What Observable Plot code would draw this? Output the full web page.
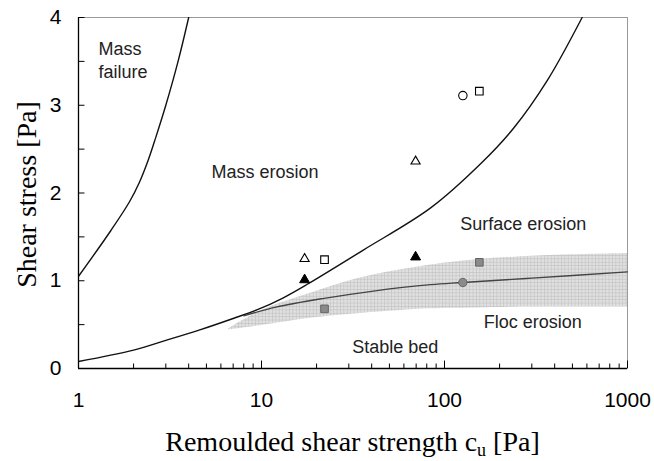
<!DOCTYPE html>
<html><head><meta charset="utf-8">
<script src="https://cdn.jsdelivr.net/npm/d3@7"></script>
<script src="https://cdn.jsdelivr.net/npm/@observablehq/plot@0.6"></script>
<style>html,body{margin:0;padding:0;background:#fff;}</style>
</head><body>
<svg width="0" height="0" style="position:absolute">
<defs>
<pattern id="grid" width="3.4" height="3.4" patternUnits="userSpaceOnUse">
<rect width="3.4" height="3.4" fill="#e0e0e0"/>
<path d="M0,0.3H3.4M0.3,0V3.4" stroke="#bcbcbc" stroke-width="0.6"/>
</pattern>
</defs></svg>
<div id="chart"></div>
<script>
// Mass failure boundary
const massFailureX = [1, 1.5, 1.9, 2.15, 2.4, 2.65, 3.0, 3.5, 4.0];
const massFailureY = [1.05, 1.57, 1.9, 2.12, 2.37, 2.64, 3.0, 3.5, 4.0];
// Mass erosion / surface erosion boundary
const surfaceX = [1, 2, 3, 4.6, 7, 9.5, 13, 17.8, 36, 84, 157, 239, 364, 565];
const surfaceY = [0.08, 0.21, 0.32, 0.44, 0.57, 0.67, 0.8, 0.96, 1.35, 1.83, 2.33, 2.74, 3.28, 4.0];
// Floc erosion mean line
const flocX = [8, 12, 22, 40, 84, 126, 300, 1000];
const flocY = [0.6, 0.7, 0.8, 0.88, 0.955, 0.98, 1.03, 1.1];
// Floc erosion band
const bandX = [6.6, 10, 20, 36, 84, 150, 300, 1000];
const bandHigh = [0.45, 0.66, 0.88, 1.04, 1.18, 1.24, 1.28, 1.31];
const bandLow = [0.44, 0.49, 0.58, 0.63, 0.68, 0.69, 0.70, 0.70];
// Measurements
const openTriX = [17.2, 69.5], openTriY = [1.25, 2.36];
const openSqX = [22.1, 155], openSqY = [1.24, 3.16];
const openCircX = [126], openCircY = [3.11];
const fillTriX = [17.2, 69.5], fillTriY = [1.01, 1.27];
const graySqX = [22.1, 155], graySqY = [0.68, 1.21];
const grayCircX = [126], grayCircY = [0.98];
// Region labels
const regionText = ["Mass\nfailure", "Mass erosion", "Surface erosion", "Floc erosion", "Stable bed"];
const regionX = [1.286, 5.33, 122, 164, 31.3];
const regionY = [3.53, 2.26, 1.665, 0.54, 0.26];
// Ticks
const xTickLabels = [1, 10, 100, 1000];
const xMinorTicks = [2,3,4,5,6,7,8,9,20,30,40,50,60,70,80,90,200,300,400,500,600,700,800,900];
const yTickLabels = [0, 1, 2, 3, 4];
const yTicks = [0, 0.5, 1, 1.5, 2, 2.5, 3, 3.5, 4];
const xTitle = ["Remoulded shear strength c", "u", " [Pa]"];
const yTitle = "Shear stress [Pa]";

const W = 654, H = 461;
const mL = 78, mR = 27, mT = 17, mB = 93;
const majorLen = 0.085, minorLen = 0.051, yTickLen = 1.085;

const chart = Plot.plot({
  width: W, height: H,
  marginLeft: mL, marginRight: mR, marginTop: mT, marginBottom: mB,
  x: {type: "log", domain: [1, 1000]},
  y: {domain: [0, 4]},
  style: {fontFamily: "'Liberation Sans', Arial, sans-serif", fontSize: "21px", color: "#000", background: "#fff", overflow: "visible"},
  marks: [
    Plot.areaY(bandX, {x: bandX, y1: bandLow, y2: bandHigh, fill: "url(#grid)", curve: "catmull-rom"}),
    Plot.frame({stroke: "#999", strokeWidth: 1}),
    Plot.line(massFailureX, {x: massFailureX, y: massFailureY, stroke: "#111", strokeWidth: 1.4, curve: "catmull-rom", clip: true}),
    Plot.line(surfaceX, {x: surfaceX, y: surfaceY, stroke: "#111", strokeWidth: 1.4, curve: "catmull-rom", clip: true}),
    Plot.line(flocX, {x: flocX, y: flocY, stroke: "#444", strokeWidth: 1.3, curve: "catmull-rom"}),
    Plot.ruleX([1], {stroke: "#000", strokeWidth: 1.3}),
    Plot.ruleY([0], {stroke: "#000", strokeWidth: 1.3}),
    Plot.ruleX(xTickLabels, {x: d => d, y1: 0, y2: majorLen, stroke: "#000", strokeWidth: 1}),
    Plot.ruleX(xMinorTicks, {x: d => d, y1: 0, y2: minorLen, stroke: "#000", strokeWidth: 1}),
    Plot.ruleY(yTicks, {y: d => d, x1: 1, x2: yTickLen, stroke: "#000", strokeWidth: 1}),
    Plot.axisX({ticks: xTickLabels, tickFormat: d => String(d), tickSize: 0, tickPadding: 24, label: null}),
    Plot.axisY({ticks: yTickLabels, tickFormat: d => String(d), tickSize: 0, tickPadding: 17, label: null}),
    Plot.dot(openTriX, {x: openTriX, y: openTriY, symbol: "triangle", r: 3.4, fill: "white", stroke: "#000", strokeWidth: 1.1}),
    Plot.dot(openSqX, {x: openSqX, y: openSqY, symbol: "square", r: 4.3, fill: "white", stroke: "#000", strokeWidth: 1.1}),
    Plot.dot(openCircX, {x: openCircX, y: openCircY, symbol: "circle", r: 4.2, fill: "white", stroke: "#000", strokeWidth: 1.1}),
    Plot.dot(fillTriX, {x: fillTriX, y: fillTriY, symbol: "triangle", r: 3.7, fill: "#000", stroke: "#000", strokeWidth: 1}),
    Plot.dot(graySqX, {x: graySqX, y: graySqY, symbol: "square", r: 4.3, fill: "#8a8a8a", stroke: "#666", strokeWidth: 1}),
    Plot.dot(grayCircX, {x: grayCircX, y: grayCircY, symbol: "circle", r: 4.2, fill: "#8a8a8a", stroke: "#666", strokeWidth: 1}),
    Plot.text(regionText, {x: regionX, y: regionY, text: d => d, textAnchor: "start", fontSize: 18, lineHeight: 1.28, fill: "#222"})
  ]
});

document.getElementById("chart").appendChild(chart);

// Axis titles (serif, with subscript)
const svg = d3.select(chart);
const cx = mL + (W - mL - mR) / 2;
const xt = svg.append("text")
  .attr("x", cx).attr("y", H - 10)
  .attr("text-anchor", "middle")
  .style("font-family", "'Liberation Serif', 'Times New Roman', serif")
  .style("font-size", "28px").attr("fill", "#000");
xt.append("tspan").text(xTitle[0]);
xt.append("tspan").attr("dy", 5).style("font-size", "18px").text(xTitle[1]);
xt.append("tspan").attr("dy", -5).text(xTitle[2]);

const cy = mT + (H - mT - mB) / 2;
svg.append("text")
  .attr("transform", `translate(36,${cy + 2}) rotate(-90)`)
  .attr("text-anchor", "middle")
  .style("font-family", "'Liberation Serif', 'Times New Roman', serif")
  .style("font-size", "28px").attr("fill", "#000")
  .text(yTitle);
</script>
</body></html>
